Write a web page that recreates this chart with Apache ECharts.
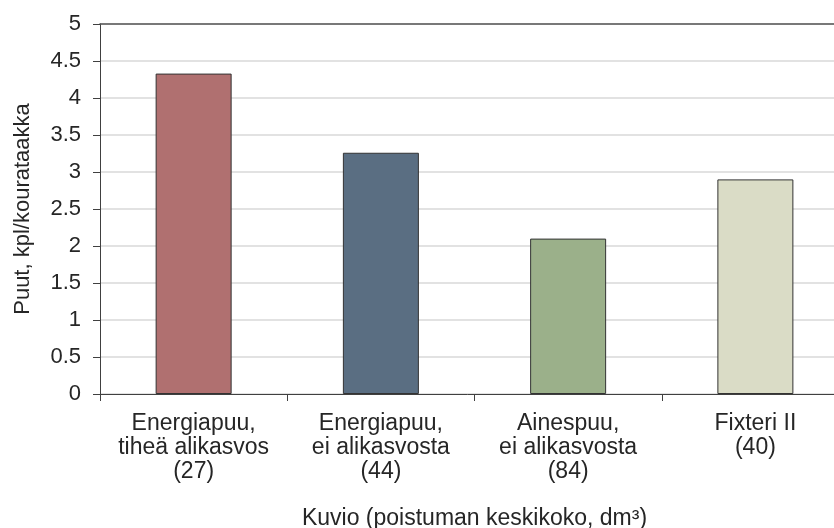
<!DOCTYPE html>
<html>
<head>
<meta charset="utf-8">
<script src="https://cdn.jsdelivr.net/npm/echarts@6/dist/echarts.min.js"></script>
<style>
  html, body { margin: 0; padding: 0; background: #ffffff; }
  #chart { width: 834px; height: 528px; }
</style>
</head>
<body>
<div id="chart"></div>
<script>
// Stand types (mean removal size in parentheses)
const categories = [
  'Energiapuu,\ntiheä alikasvos\n(27)',
  'Energiapuu,\nei alikasvosta\n(44)',
  'Ainespuu,\nei alikasvosta\n(84)',
  'Fixteri II\n(40)'
];
// Trees per grapple load
const treesPerLoad = [4.33, 3.26, 2.10, 2.90];
const barColors = ['#b07070', '#5a6e82', '#9bb08a', '#dadcc6'];
const yTicks = { min: 0, max: 5, interval: 0.5 };

const fontFamily = '"Liberation Sans", Arial, sans-serif';
const textColor = '#262626';
const axisColor = '#404040';

const chart = echarts.init(document.getElementById('chart'), null, { renderer: 'canvas' });
chart.setOption({
  animation: false,
  backgroundColor: '#ffffff',
  grid: {
    left: 100, top: 24, width: 749, height: 370,
    containLabel: false, outerBoundsMode: 'none'
  },
  xAxis: [{
    type: 'category',
    data: categories,
    name: 'Kuvio (poistuman keskikoko, dm³)',
    nameLocation: 'middle',
    nameGap: 113,
    nameTextStyle: { fontFamily, fontSize: 23, color: textColor },
    axisLine: { show: true, lineStyle: { color: axisColor, width: 1 } },
    axisTick: { show: true, length: 7, lineStyle: { color: axisColor } },
    axisLabel: {
      fontFamily, fontSize: 23, color: textColor, lineHeight: 24, margin: 18,
      interval: 0, align: 'center'
    },
    splitLine: { show: false }
  }, {
    // top border of the plot area
    type: 'category',
    position: 'top',
    data: categories,
    axisLine: { show: true, lineStyle: { color: '#555555', width: 1.5 } },
    axisTick: { show: false },
    axisLabel: { show: false },
    splitLine: { show: false }
  }],
  yAxis: {
    type: 'value',
    min: yTicks.min, max: yTicks.max, interval: yTicks.interval,
    name: 'Puut, kpl/kourataakka',
    nameLocation: 'middle',
    nameGap: 66,
    nameRotate: 90,
    nameTextStyle: { fontFamily, fontSize: 22, color: textColor },
    axisLine: { show: true, lineStyle: { color: axisColor, width: 1 } },
    axisTick: { show: true, length: 7, lineStyle: { color: axisColor } },
    axisLabel: { fontFamily, fontSize: 22, color: textColor, margin: 19 },
    splitLine: { show: true, lineStyle: { color: '#d9d9d9', width: 1.5 } }
  },
  series: [{
    type: 'bar',
    xAxisIndex: 0,
    data: treesPerLoad.map((v, i) => ({
      value: v,
      itemStyle: { color: barColors[i] }
    })),
    barWidth: 76,
    itemStyle: { borderColor: '#333333', borderWidth: 1 }
  }]
});
</script>
</body>
</html>
